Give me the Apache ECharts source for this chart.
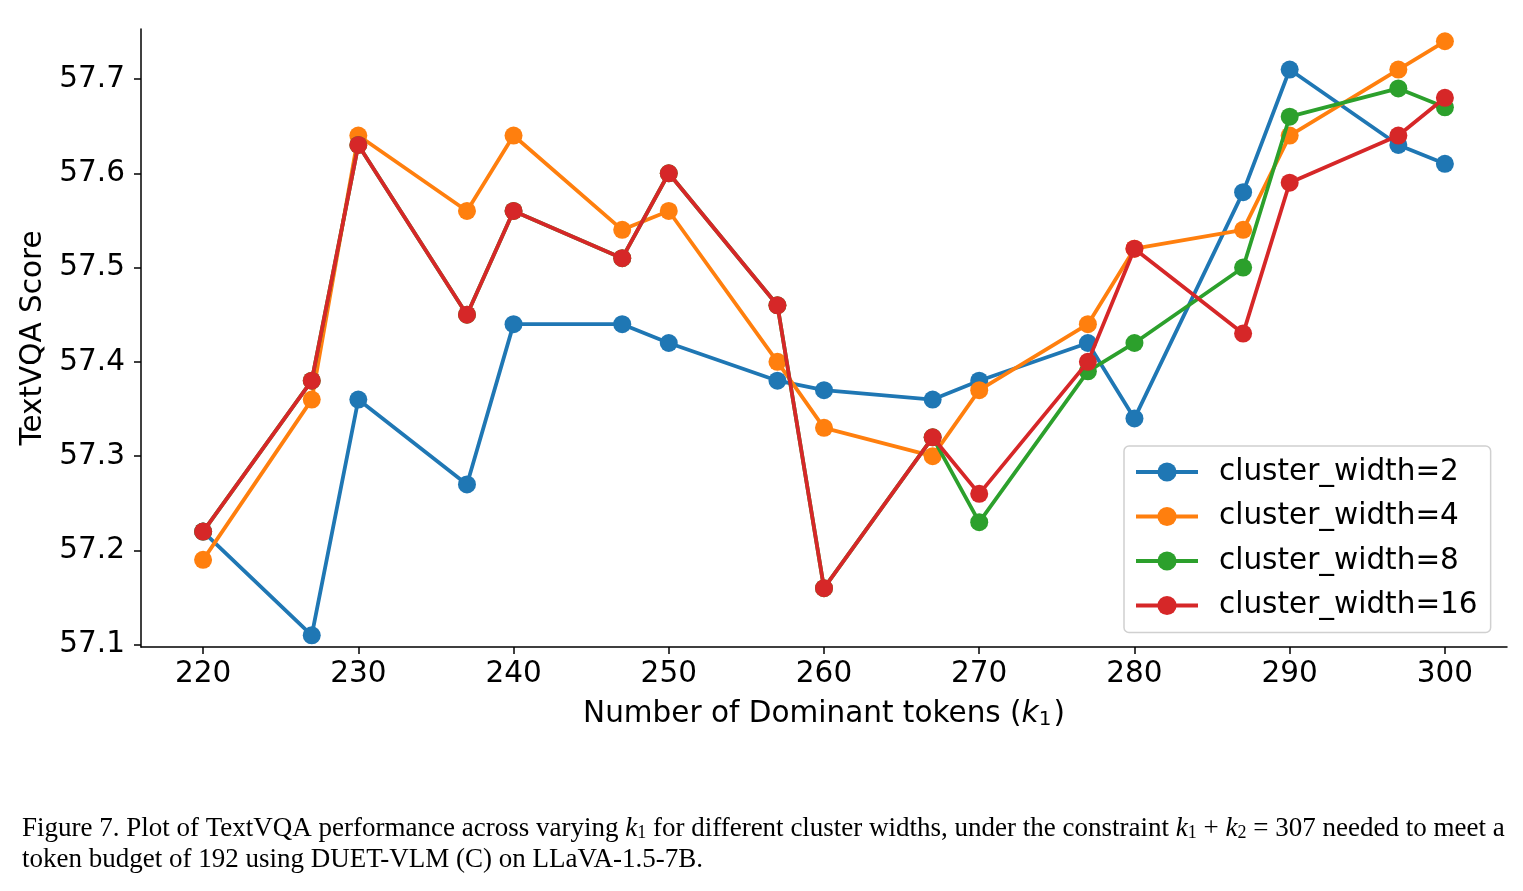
<!DOCTYPE html>
<html>
<head>
<meta charset="utf-8">
<script src="https://cdn.jsdelivr.net/npm/echarts@6/dist/echarts.min.js"></script>
<style>
html,body{margin:0;padding:0;background:#fff;}
#c{width:1523px;height:891px;}
</style>
</head>
<body>
<div id="c"></div>
<script>
const xValues = [220, 227, 230, 237, 240, 247, 250, 257, 260, 267, 270, 277, 280, 287, 290, 297, 300];
const cw2  = [57.22, 57.11, 57.36, 57.27, 57.44, 57.44, 57.42, 57.38, 57.37, 57.36, 57.38, 57.42, 57.34, 57.58, 57.71, 57.63, 57.61];
const cw4  = [57.19, 57.36, 57.64, 57.56, 57.64, 57.54, 57.56, 57.40, 57.33, 57.30, 57.37, 57.44, 57.52, 57.54, 57.64, 57.71, 57.74];
const cw8  = [57.22, 57.38, 57.63, 57.45, 57.56, 57.51, 57.60, 57.46, 57.16, 57.32, 57.23, 57.39, 57.42, 57.50, 57.66, 57.69, 57.67];
const cw16 = [57.22, 57.38, 57.63, 57.45, 57.56, 57.51, 57.60, 57.46, 57.16, 57.32, 57.26, 57.40, 57.52, 57.43, 57.59, 57.64, 57.68];
const seriesNames = ['cluster_width=2', 'cluster_width=4', 'cluster_width=8', 'cluster_width=16'];
const xTicks = [220, 230, 240, 250, 260, 270, 280, 290, 300];
const yTicks = [57.1, 57.2, 57.3, 57.4, 57.5, 57.6, 57.7];
const colors = ['#1f77b4', '#ff7f0e', '#2ca02c', '#d62728'];

const FONT = 'DejaVu Sans';
const FS = 29.5;
const CFS = 27;
const allSeries = [cw2, cw4, cw8, cw16];

const chart = echarts.init(document.getElementById('c'));
chart.setOption({
  animation: false,
  color: colors,
  grid: {left: 141, right: 16, top: 29, bottom: 244, containLabel: false},
  xAxis: {
    type: 'value', min: 216, max: 304,
    axisLine: {lineStyle: {color: '#000', width: 1.5}},
    axisTick: {show: true, length: 7, lineStyle: {color: '#000', width: 1.5}, customValues: xTicks},
    axisLabel: {customValues: xTicks, color: '#000', fontFamily: FONT, fontSize: FS, margin: 12},
    splitLine: {show: false},
    name: '{n|Number of Dominant tokens (}{k|k}{s|1}{n|)}',
    nameLocation: 'middle', nameGap: 51,
    nameTextStyle: {
      rich: {
        n: {fontFamily: FONT, fontSize: FS, color: '#000'},
        k: {fontFamily: FONT, fontStyle: 'italic', fontSize: FS, color: '#000'},
        s: {fontFamily: FONT, fontSize: 20, color: '#000', verticalAlign: 'bottom', padding: [12, 2, 0, 0]}
      }
    }
  },
  yAxis: {
    type: 'value', min: 57.0976, max: 57.753,
    axisLine: {show: true, lineStyle: {color: '#000', width: 1.5}},
    axisTick: {show: true, length: 7, lineStyle: {color: '#000', width: 1.5}, customValues: yTicks},
    axisLabel: {customValues: yTicks, color: '#000', fontFamily: FONT, fontSize: FS, margin: 16,
      formatter: v => v.toFixed(1)},
    splitLine: {show: false},
    name: 'TextVQA Score', nameLocation: 'middle', nameGap: 90,
    nameTextStyle: {fontFamily: FONT, fontSize: FS, color: '#000'}
  },
  legend: {
    orient: 'vertical', left: 1124, top: 446,
    data: seriesNames,
    itemWidth: 62, itemHeight: 24, itemGap: 14.5,
    padding: [11, 13, 12, 10],
    borderColor: '#d0d0d0', borderWidth: 1.5, borderRadius: 5,
    backgroundColor: 'rgba(255,255,255,0.8)',
    lineStyle: {width: 4},
    itemStyle: {borderWidth: 0},
    textStyle: {fontFamily: FONT, fontSize: FS, color: '#000', padding: [0, 0, 0, 16], lineHeight: 30}
  },
  series: allSeries.map((vals, i) => ({
    name: seriesNames[i], type: 'line',
    data: xValues.map((x, j) => [x, vals[j]]),
    symbol: 'circle', symbolSize: 18,
    lineStyle: {width: 3.8, color: colors[i]},
    itemStyle: {color: colors[i]},
    z: 2 + i
  })),
  graphic: [
    {
      type: 'text', left: 22, top: 815,
      style: {
        text: '{t|Figure 7. Plot of TextVQA performance across varying }{k|k}{s|1}{t| for different cluster widths, under the constraint }{k|k}{s|1}{t| + }{k|k}{s|2}{t| = 307 needed to meet a}',
        rich: {
          t: {fontFamily: 'Liberation Serif', fontSize: CFS, fill: '#000'},
          k: {fontFamily: 'Liberation Serif', fontStyle: 'italic', fontSize: CFS, fill: '#000'},
          s: {fontFamily: 'Liberation Serif', fontSize: 18, fill: '#000', verticalAlign: 'bottom', padding: [10, 0, 0, 0]}
        }
      }
    },
    {
      type: 'text', left: 22, top: 846,
      style: {
        text: 'token budget of 192 using DUET-VLM (C) on LLaVA-1.5-7B.',
        fontFamily: 'Liberation Serif', fontSize: CFS, fill: '#000'
      }
    }
  ]
});
</script>
</body>
</html>
